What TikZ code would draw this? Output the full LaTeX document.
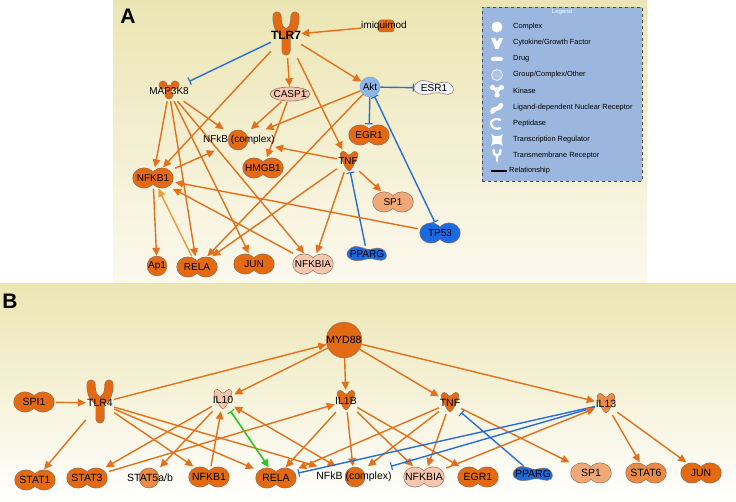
\documentclass[tikz,border=0pt]{standalone}
\usepackage{fontspec}
\setmainfont{Liberation Sans}
\usetikzlibrary{arrows.meta,backgrounds}

\definecolor{orng}{HTML}{E36A12}
\definecolor{orngm}{HTML}{EA8A44}
\definecolor{orngl}{HTML}{F0A877}
\definecolor{peach}{HTML}{F5C7AE}
\definecolor{blu}{HTML}{1B6BE0}
\definecolor{bluel}{HTML}{8DB5EA}
\definecolor{esrc}{HTML}{EEF2FA}
\definecolor{nodeline}{HTML}{94705C}
\definecolor{edgeor}{HTML}{E67019}
\definecolor{edgeorl}{HTML}{EE9A3A}
\definecolor{edgebl}{HTML}{286ED7}
\definecolor{edgegr}{HTML}{2BC81E}
\definecolor{lgd}{HTML}{9BB6DF}
\definecolor{khaki}{HTML}{ECE5B3}
\definecolor{paleA}{HTML}{FBF9EF}

\tikzset{
  act/.style={draw=edgeor, line width=1.4pt, -{Triangle[length=8pt,width=7.5pt]}},
  inh/.style={draw=edgebl, line width=1.4pt, -{Bar[width=8pt,line width=1.1pt]}},
  inhboth/.style={draw=edgebl, line width=1.4pt, {Bar[width=8pt,line width=1.1pt]}-{Bar[width=8pt,line width=1.1pt]}},
  both/.style={draw=edgeor, line width=1.4pt, {Triangle[length=8pt,width=7.5pt]}-{Triangle[length=8pt,width=7.5pt]}},
  grn/.style={draw=edgegr, line width=1.6pt, {Bar[width=8pt,line width=1.1pt]}-{Triangle[length=8pt,width=7.5pt]}},
  % node boxes (the shapes are pics below)
  tf/.style={minimum width=44pt, minimum height=21pt, inner sep=0pt},
  cyto/.style={minimum width=22pt, minimum height=22pt, inner sep=0pt},
  rec/.style={minimum width=28pt, minimum height=46pt, inner sep=0pt},
  kin/.style={minimum width=40pt, minimum height=20pt, inner sep=0pt},
  pep/.style={minimum width=42pt, minimum height=15pt, inner sep=0pt},
  lig/.style={minimum width=40pt, minimum height=16pt, inner sep=0pt},
  drug/.style={minimum height=14pt, inner sep=0pt},
  grp/.style={minimum height=21pt, inner sep=0pt},
  cplx/.style={circle, draw=nodeline, line width=0.5pt, fill=orng, inner sep=0pt},
  lgdtxt/.style={anchor=west, inner sep=0pt, font=\fontsize{7.4}{8}\selectfont},
  % transcription regulator
  pics/tfs/.style={code={
    \fill[nodeline] (-9pt,0pt) ellipse (11.6pt and 10.4pt) (9pt,0pt) ellipse (11.6pt and 10.4pt);
    \fill[#1] (-9pt,0pt) ellipse (11pt and 9.8pt) (9pt,0pt) ellipse (11pt and 9.8pt);}},
  pics/tfs/.default=orng,
  % cytokine
  pics/cytos/.style={code={
    \filldraw[fill=#1, draw=nodeline, line width=0.5pt]
      (0pt,-10pt) .. controls (-3pt,-9pt) and (-5pt,-3pt) .. (-8pt,3pt)
      .. controls (-11pt,8pt) and (-6pt,12pt) .. (-3pt,8pt)
      .. controls (-2pt,6.5pt) and (-1pt,6pt) .. (0pt,6pt)
      .. controls (1pt,6pt) and (2pt,6.5pt) .. (3pt,8pt)
      .. controls (6pt,12pt) and (11pt,8pt) .. (8pt,3pt)
      .. controls (5pt,-3pt) and (3pt,-9pt) .. (0pt,-10pt) -- cycle;}},
  pics/cytos/.default=orng,
  % transmembrane receptor
  pics/recs/.style={code={
    \draw[nodeline, line width=9pt, line cap=round, line join=round]
      (0pt,-18pt) -- (0pt,0pt) (-9pt,17pt) .. controls (-9pt,5pt) and (-5pt,1pt) .. (0pt,0pt)
      .. controls (5pt,1pt) and (9pt,5pt) .. (9pt,17pt);
    \draw[#1, line width=7.8pt, line cap=round, line join=round]
      (0pt,-18pt) -- (0pt,0pt) (-9pt,17pt) .. controls (-9pt,5pt) and (-5pt,1pt) .. (0pt,0pt)
      .. controls (5pt,1pt) and (9pt,5pt) .. (9pt,17pt);}},
  pics/recs/.default=orng,
  % kinase
  pics/kins/.style={code={
    \fill[nodeline] (-6pt,5pt) circle (4.4pt) (6pt,5pt) circle (4.4pt) (0pt,-5pt) circle (4.4pt);
    \fill[#1] (-6pt,5pt) circle (3.8pt) (6pt,5pt) circle (3.8pt) (0pt,-5pt) circle (3.8pt)
      (-6pt,5pt) -- (0pt,-5pt) -- (6pt,5pt) -- cycle;}},
  pics/kins/.default=orng,
  % peptidase
  pics/peps/.style={code={
    \filldraw[fill=#1, draw=nodeline, line width=0.6pt] (0pt,0pt) ellipse (20pt and 7pt);
    \draw[nodeline, line width=0.6pt] (19pt,3pt) .. controls (12pt,3pt) and (12pt,-3pt) .. (19pt,-3pt);}},
  pics/peps/.default=peach,
  % ligand-dependent nuclear receptor
  pics/ligs/.style={code={
    \filldraw[fill=#1, draw=nodeline, line width=0.5pt]
      (-19pt,-3pt) .. controls (-15pt,-8pt) and (-7pt,-7pt) .. (0pt,-5pt)
      .. controls (7pt,-3pt) and (13pt,-9pt) .. (18pt,-5pt)
      .. controls (21pt,-2pt) and (19pt,3pt) .. (15pt,5pt)
      .. controls (9pt,8pt) and (5pt,3pt) .. (-1pt,5pt)
      .. controls (-7pt,7pt) and (-12pt,9pt) .. (-16pt,6pt)
      .. controls (-20pt,3pt) and (-21pt,0pt) .. (-19pt,-3pt) -- cycle;}},
  pics/ligs/.default=blu,
  % drug
  pics/drugs/.style={code={
    \filldraw[fill=orng, draw=nodeline, line width=0.5pt, rounded corners=3pt] (-7pt,-6pt) rectangle (9pt,6pt);}},
  % group / complex
  pics/grps/.style={code={
    \filldraw[fill=#1, draw=nodeline, line width=0.5pt] (0pt,0pt) circle (10pt);}},
  pics/grps/.default=orng
}

\begin{document}
\begin{tikzpicture}[x=1pt, y=-1pt]
\useasboundingbox (0,0) rectangle (736,502);

\begin{scope}[on background layer]
  \shade[top color=khaki, bottom color=paleA] (113,0) rectangle (647,284);
  \shade[top color=khaki, bottom color=white] (0,284) rectangle (736,502);
\end{scope}

\node[font=\fontsize{21}{21}\bfseries\selectfont] (labA) at (128,16) {A};
\node[font=\fontsize{21}{21}\bfseries\selectfont] (labB) at (10,301) {B};

% legend
\node[draw=black!70, dashed, fill=lgd, minimum width=160pt, minimum height=174pt, anchor=north west, inner sep=0pt] (legend) at (482,7) {};
\node[text=white, font=\fontsize{6}{7}\selectfont] (lgTitle) at (562,12) {Legend};
\fill[white] (497,27) circle (5.5);
\fill[white] (491,38) -- (495,38) -- (497,42) -- (499,38) -- (503,38) -- (498.5,49) -- (495.5,49) -- cycle;
\fill[white, rounded corners=2] (491,57) rectangle (503,61);
\draw[white!85!lgd, fill=lgd!80!white, line width=0.7] (497,75) circle (5.5);
\fill[white] (492.5,87.5) circle (2.6) (501.5,87.5) circle (2.6) (497,95) circle (2.6);
\fill[white] (492.5,87.5) -- (501.5,87.5) -- (497,95) -- cycle;
\fill[white] (490,111) .. controls (493,104) and (496,110) .. (499,104) .. controls (501,101) and (504,104) .. (503,106) .. controls (500,113) and (497,108) .. (494,113) .. controls (492,115) and (489,113) .. (490,111) -- cycle;
\draw[white, line width=2.2] (501,120) .. controls (495,117) and (490,121) .. (491,124) .. controls (492,128) and (496,130) .. (501,128);
\fill[white] (491,134) .. controls (494,137) and (500,137) .. (503,134) .. controls (501,138) and (501,142) .. (503,146) .. controls (500,143) and (494,143) .. (491,146) .. controls (493,142) and (493,138) .. (491,134) -- cycle;
\draw[white, line width=2.4, line cap=round] (497,161) -- (497,156) (493.5,150) .. controls (494,154) .. (497,156) .. controls (500,154) .. (500.5,150);
\draw[black, line width=1.1] (491,171) -- (507,171);
\node[lgdtxt] (lgA) at (513,27) {Complex};
\node[lgdtxt] (lgB) at (513,43) {Cytokine/Growth Factor};
\node[lgdtxt] (lgC) at (513,59) {Drug};
\node[lgdtxt] (lgD) at (513,75) {Group/Complex/Other};
\node[lgdtxt] (lgE) at (513,91) {Kinase};
\node[lgdtxt] (lgF) at (513,108) {Ligand-dependent Nuclear Receptor};
\node[lgdtxt] (lgG) at (513,124) {Peptidase};
\node[lgdtxt] (lgH) at (513,140) {Transcription Regulator};
\node[lgdtxt] (lgI) at (513,156) {Transmembrane Receptor};
\node[lgdtxt] (lgJ) at (509,171) {Relationship};

% panel A shapes
\pic at (286,33) {recs};
\pic at (385,26) {drugs};
\pic at (169,90) {kins};
\pic at (290,94) {peps};
\pic at (434,88) {ligs=esrc};
\pic at (238,140) {grps};
\pic at (369,135) {tfs};
\pic at (263,168) {tfs};
\pic at (349,161) {cytos};
\pic at (153,178) {tfs};
\pic at (393,202) {tfs=orngl};
\pic at (440,233) {tfs=blu};
\pic at (367,254) {ligs};
\pic at (197,267) {tfs};
\pic at (254,264) {tfs};
\pic at (313,264) {tfs=peach};

% panel A nodes
\begin{scope}[font=\fontsize{10}{12}\selectfont]
\node[rec, font=\fontsize{12}{12}\bfseries\selectfont] (TLR7) at (286,35) {TLR7};
\node[drug] (imiq) at (384,26) {imiquimod};
\node[kin] (MAP3K8) at (169,91) {MAP3K8};
\node[pep] (CASP1) at (290,94) {CASP1};
\node[cplx, fill=bluel, draw=edgebl!60, minimum size=20pt] (Akt) at (370,87) {Akt};
\node[lig] (ESR1) at (434,88) {ESR1};
\node[grp] (NFkBA) at (239,140) {NFkB (complex)};
\node[tf] (EGR1A) at (369,135) {EGR1};
\node[tf] (HMGB1) at (263,168) {HMGB1};
\node[cyto] (TNFA) at (348,161) {TNF};
\node[tf] (NFKB1A) at (153,178) {NFKB1};
\node[tf] (SP1A) at (393,202) {SP1};
\node[tf] (TP53) at (440,233) {TP53};
\node[lig] (PPARGA) at (367,254) {PPARG};
\node[cplx, minimum size=19pt] (Ap1) at (157,266) {Ap1};
\node[tf] (RELAA) at (197,267) {RELA};
\node[tf] (JUNA) at (254,264) {JUN};
\node[tf] (NFKBIAA) at (313,264) {NFKBIA};
\end{scope}

% panel B shapes
\pic at (34,402) {tfs};
\pic at (100,401) {recs};
\pic at (223,399) {cytos=peach};
\pic at (346,400) {cytos};
\pic at (450,402) {cytos};
\pic at (606,403) {cytos=orngm};
\pic at (35,480) {tfs};
\pic at (87,478) {tfs};
\pic at (149,478) {grps=orngm};
\pic at (209,477) {tfs};
\pic at (276,478) {tfs};
\pic at (355,477) {grps};
\pic at (424,477) {tfs=peach};
\pic at (478,477) {tfs};
\pic at (533,474) {ligs};
\pic at (591,473) {tfs=orngl};
\pic at (646,473) {tfs=orngm};
\pic at (701,473) {tfs};

% panel B nodes
\begin{scope}[font=\fontsize{10.5}{12}\selectfont]
\node[cplx, minimum size=34pt] (MYD88) at (344,340) {MYD88};
\node[tf] (SPI1) at (34,402) {SPI1};
\node[rec] (TLR4) at (100,403) {TLR4};
\node[cyto] (IL10) at (223,400) {IL10};
\node[cyto] (IL1B) at (346,401) {IL1B};
\node[cyto] (TNFB) at (450,403) {TNF};
\node[cyto] (IL13) at (606,404) {IL13};
\node[tf] (STAT1) at (35,480) {STAT1};
\node[tf] (STAT3) at (87,478) {STAT3};
\node[grp] (STAT5) at (150,478) {STAT5a/b};
\node[tf] (NFKB1B) at (209,477) {NFKB1};
\node[tf] (RELAB) at (276,478) {RELA};
\node[grp] (NFkBB) at (354,477) {NFkB (complex)};
\node[tf] (NFKBIAB) at (424,477) {NFKBIA};
\node[tf] (EGR1B) at (478,477) {EGR1};
\node[lig] (PPARGB) at (533,474) {PPARG};
\node[tf] (SP1B) at (591,473) {SP1};
\node[tf] (STAT6) at (646,473) {STAT6};
\node[tf] (JUNB) at (701,473) {JUN};
\end{scope}

\begin{scope}[on background layer]
% panel A edges
\draw[act] (imiq) -- (TLR7); % imiquimod-TLR7
\draw[inh] (TLR7) -- (MAP3K8); % TLR7-MAP3K8
\draw[act] (TLR7) -- (CASP1); % TLR7-CASP1
\draw[act] (TLR7) -- (Akt); % TLR7-Akt
\draw[act] (TLR7) -- (TNFA); % TLR7-TNF
\draw[act] (TLR7) -- (NFKB1A); % TLR7-NFKB1
\draw[inh] (Akt) -- (ESR1); % Akt-ESR1
\draw[inh] (Akt) -- (EGR1A); % Akt-EGR1
\draw[inhboth] (Akt) -- (TP53); % Akt-TP53
\draw[act] (Akt) -- (NFkBA); % Akt-NFkB
\draw[act] (Akt) -- (RELAA); % Akt-RELA
\draw[act] (CASP1) -- (NFkBA); % CASP1-NFkB
\draw[act] (CASP1) -- (HMGB1); % CASP1-HMGB1
\draw[act] (TNFA) -- (NFkBA); % TNF-NFkB
\draw[act] (TNFA) -- (NFKBIAA); % TNF-NFKBIA
\draw[act] (TNFA) -- (SP1A); % TNF-SP1
\draw[act] (TNFA) -- (RELAA); % TNF-RELA
\draw[inh] (PPARGA) -- (TNFA); % PPARG-TNF
\draw[act] (MAP3K8) -- (NFKB1A); % MAP3K8-NFKB1
\draw[act] (MAP3K8) -- (NFkBA); % MAP3K8-NFkB
\draw[act] (MAP3K8) -- (RELAA); % MAP3K8-RELA
\draw[act] (MAP3K8) -- (JUNA); % MAP3K8-JUN
\draw[act] (MAP3K8) -- (NFKBIAA); % MAP3K8-NFKBIA
\draw[act] (NFKB1A) -- (NFkBA); % NFKB1-NFkB
\draw[act] (NFKB1A) -- (Ap1); % NFKB1-Ap1
\draw[act, draw=edgeorl] (RELAA) -- (NFKB1A); % RELA-NFKB1
\draw[act] (TP53) -- (NFKB1A); % TP53-NFKB1
\draw[act] (NFKBIAA) -- (NFKB1A); % NFKBIA-NFKB1

% panel B edges
\draw[act] (SPI1) -- (TLR4); % SPI1-TLR4
\draw[act] (TLR4) -- (MYD88); % TLR4-MYD88
\draw[act] (TLR4) -- (STAT1); % TLR4-STAT1
\draw[act] (TLR4) -- (NFKB1B); % TLR4-NFKB1
\draw[act] (TLR4) -- (RELAB); % TLR4-RELA
\draw[act] (TLR4) -- (NFkBB); % TLR4-NFkB
\draw[act] (MYD88) -- (IL10); % MYD88-IL10
\draw[act] (MYD88) -- (IL1B); % MYD88-IL1B
\draw[act] (MYD88) -- (TNFB); % MYD88-TNF
\draw[act] (MYD88) -- (IL13); % MYD88-IL13
\draw[act] (IL10) -- (STAT3); % IL10-STAT3
\draw[act] (IL10) -- (STAT5); % IL10-STAT5a/b
\draw[act] (NFKB1B) -- (IL10); % NFKB1-IL10
\draw[grn] (IL10) -- (RELAB); % IL10-RELA
\draw[both] (IL10) -- (NFkBB); % IL10-NFkB
\draw[act] (STAT3) -- (IL1B); % STAT3-IL1B
\draw[act] (IL1B) -- (RELAB); % IL1B-RELA
\draw[act] (IL1B) -- (NFkBB); % IL1B-NFkB
\draw[act] (IL1B) -- (NFKBIAB); % IL1B-NFKBIA
\draw[act] (IL1B) -- (EGR1B); % IL1B-EGR1
\draw[act] (TNFB) -- (RELAB); % TNF-RELA
\draw[act] (TNFB) -- (NFkBB); % TNF-NFkB
\draw[act] (TNFB) -- (NFKBIAB); % TNF-NFKBIA
\draw[act] (TNFB) -- (SP1B); % TNF-SP1
\draw[inh] (PPARGB) -- (TNFB); % PPARG-TNF
\draw[inh] (IL13) -- (RELAB); % IL13-RELA
\draw[inh] (IL13) -- (NFkBB); % IL13-NFkB
\draw[act] (NFKBIAB) -- (IL13); % NFKBIA-IL13
\draw[act] (IL13) -- (STAT6); % IL13-STAT6
\draw[act] (IL13) -- (JUNB); % IL13-JUN
\end{scope}
\end{tikzpicture}
\end{document}
